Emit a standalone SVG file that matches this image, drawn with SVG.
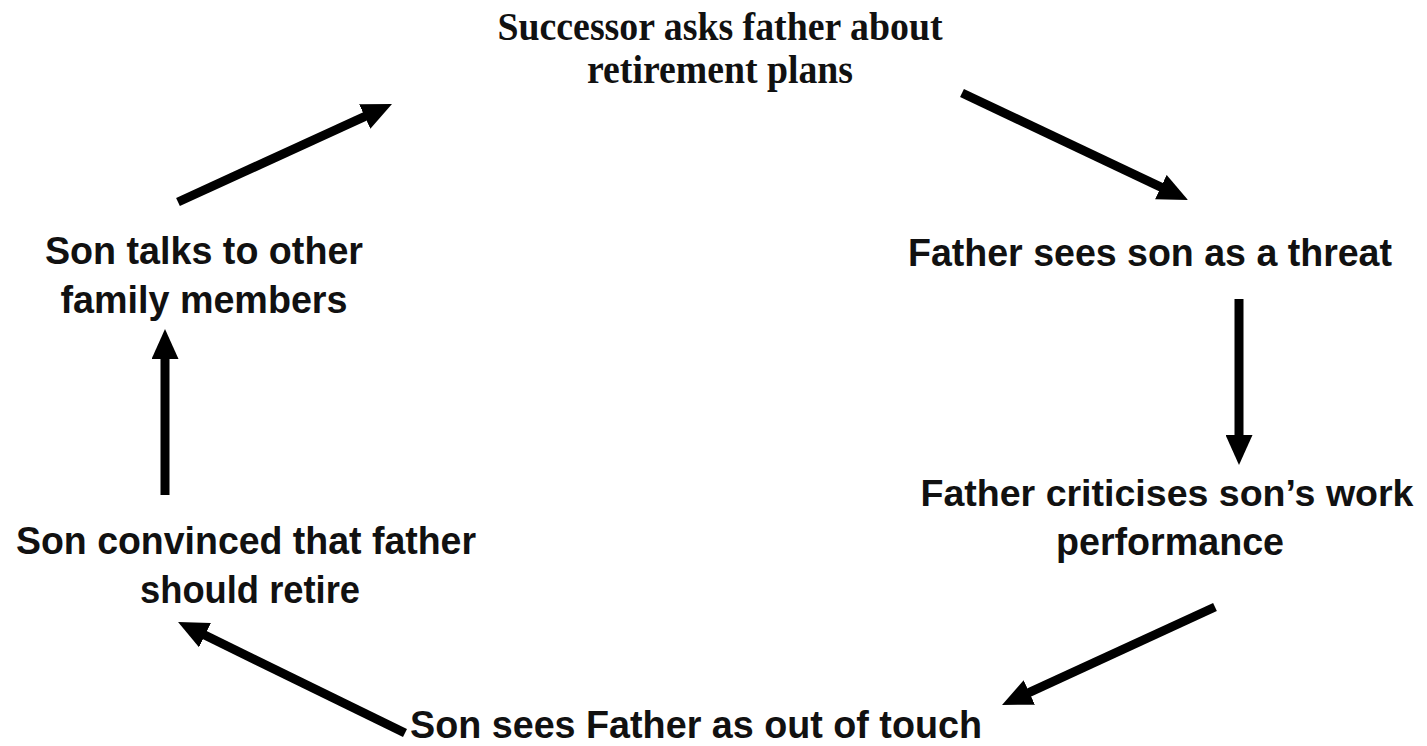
<svg xmlns="http://www.w3.org/2000/svg" width="1427" height="746" viewBox="0 0 1427 746">
<style>
.sans{font-family:"Liberation Sans",Arial,sans-serif;font-weight:bold;font-size:39px;fill:#111;}
.serif{font-family:"Liberation Serif","Times New Roman",serif;font-weight:bold;font-size:39px;fill:#111;}
.conn{stroke:#000;stroke-width:9;fill:none;marker-end:url(#ah);}
</style>
<defs>
<marker id="ah" markerUnits="userSpaceOnUse" markerWidth="30" markerHeight="27" refX="10" refY="13.5" orient="auto" viewBox="0 0 30 27">
<path d="M0,0 L30,13.5 L0,27 z" fill="#000"/>
</marker>
</defs>
<rect width="1427" height="746" fill="#fff"/>
<g id="n1">
<text class="serif" x="720" y="40" text-anchor="middle" textLength="445" lengthAdjust="spacingAndGlyphs">Successor asks father about</text>
<text class="serif" x="720" y="83" text-anchor="middle" textLength="266" lengthAdjust="spacingAndGlyphs">retirement plans</text>
</g>
<g id="n2">
<text class="sans" x="1150" y="266" text-anchor="middle" textLength="484" lengthAdjust="spacingAndGlyphs">Father sees son as a threat</text>
</g>
<g id="n3">
<text class="sans" x="1167" y="506" text-anchor="middle" textLength="493" lengthAdjust="spacingAndGlyphs" style="font-size:37px">Father criticises son’s work</text>
<text class="sans" x="1170" y="555" text-anchor="middle" textLength="228" lengthAdjust="spacingAndGlyphs">performance</text>
</g>
<g id="n4">
<text class="sans" x="696" y="738" text-anchor="middle" textLength="572" lengthAdjust="spacingAndGlyphs">Son sees Father as out of touch</text>
</g>
<g id="n5">
<text class="sans" x="246" y="554" text-anchor="middle" textLength="460" lengthAdjust="spacingAndGlyphs">Son convinced that father</text>
<text class="sans" x="250" y="603" text-anchor="middle" textLength="220" lengthAdjust="spacingAndGlyphs">should retire</text>
</g>
<g id="n6">
<text class="sans" x="204" y="264" text-anchor="middle" textLength="318" lengthAdjust="spacingAndGlyphs">Son talks to other</text>
<text class="sans" x="204" y="313" text-anchor="middle" textLength="287" lengthAdjust="spacingAndGlyphs">family members</text>
</g>
<g id="connectors">
<line class="conn" x1="178" y1="202" x2="373.8" y2="112.3"/>
<line class="conn" x1="962" y1="93" x2="1169.9" y2="191.4"/>
<line class="conn" x1="1239" y1="299" x2="1239" y2="445"/>
<line class="conn" x1="1215" y1="607" x2="1020.2" y2="696.6"/>
<line class="conn" x1="405" y1="733" x2="196" y2="630.8"/>
<line class="conn" x1="165" y1="495" x2="165" y2="349"/>
</g>
</svg>
